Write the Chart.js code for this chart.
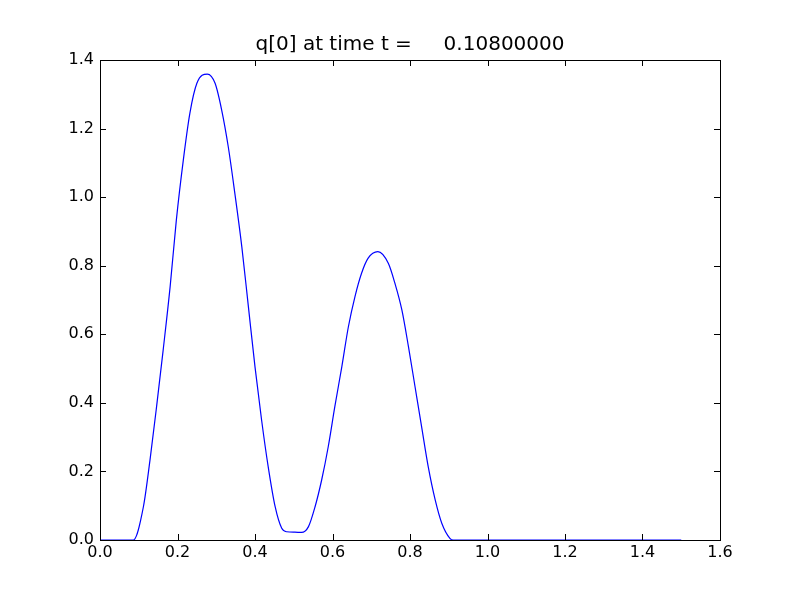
<!DOCTYPE html>
<html lang="en">
<head>
  <meta charset="UTF-8" />
  <title>q[0] at time t</title>
  <script src="https://cdn.jsdelivr.net/npm/chart.js"></script>
  <style>
    html, body { margin: 0; padding: 0; background: #fff; }
    .wrap { width: 800px; height: 600px; }
  </style>
</head>
<body>
<div class="wrap"><canvas id="qChart" width="800" height="600"></canvas></div>

<script>
  // values
  const xValues = [0.0, 0.086, 0.112, 0.129, 0.146, 0.163, 0.181, 0.197, 0.215, 0.232, 0.250, 0.277,
                   0.297, 0.314, 0.331, 0.348, 0.366, 0.383, 0.400, 0.417, 0.434, 0.452, 0.469, 0.482,
                   0.503, 0.520, 0.538, 0.555, 0.572, 0.589, 0.606, 0.624, 0.641, 0.658, 0.675, 0.692, 0.717,
                   0.744, 0.761, 0.779, 0.796, 0.813, 0.830, 0.847, 0.865, 0.882, 0.903, 0.912, 1.5];
  const qValues = [0.0, 0.0, 0.097, 0.233, 0.389, 0.554, 0.739, 0.933, 1.108, 1.245, 1.332, 1.359,
                   1.332, 1.254, 1.147, 1.011, 0.855, 0.680, 0.505, 0.350, 0.214, 0.097, 0.034, 0.024,
                   0.023, 0.022, 0.039, 0.097, 0.175, 0.272, 0.389, 0.505, 0.622, 0.710, 0.778, 0.822, 0.841,
                   0.807, 0.749, 0.671, 0.564, 0.447, 0.330, 0.214, 0.117, 0.049, 0.005, 0.0, 0.0];
  const xTicks = [0.0, 0.2, 0.4, 0.6, 0.8, 1.0, 1.2, 1.4, 1.6];
  const yTicks = [0.0, 0.2, 0.4, 0.6, 0.8, 1.0, 1.2, 1.4];
  const titleText = 'q[0] at time t =     0.10800000';

  // box around the axes plus inward tick marks on all four sides
  const frameTicks = {
    id: 'frameTicks',
    afterLayout(chart) {
      // centre the title over the axes, not the whole canvas
      const t = chart.titleBlock;
      if (t) {
        t.left = chart.chartArea.left;
        t.right = chart.chartArea.right;
        t.width = t.right - t.left;
      }
    },
    afterDraw(chart) {
      const { ctx, chartArea: a, scales } = chart;
      const len = 6;
      ctx.save();
      ctx.strokeStyle = '#000';
      ctx.lineWidth = 1;
      ctx.beginPath();
      xTicks.forEach(v => {
        const px = Math.round(scales.x.getPixelForValue(v)) + 0.5;
        ctx.moveTo(px, a.bottom); ctx.lineTo(px, a.bottom - len);
        ctx.moveTo(px, a.top); ctx.lineTo(px, a.top + len);
      });
      yTicks.forEach(v => {
        const py = Math.round(scales.y.getPixelForValue(v)) + 0.5;
        ctx.moveTo(a.left, py); ctx.lineTo(a.left + len, py);
        ctx.moveTo(a.right, py); ctx.lineTo(a.right - len, py);
      });
      ctx.stroke();
      ctx.strokeRect(Math.round(a.left) + 0.5, Math.round(a.top) + 0.5,
                     Math.round(a.right - a.left), Math.round(a.bottom - a.top));
      ctx.restore();
    }
  };

  new Chart(document.getElementById('qChart'), {
    type: 'line',
    data: {
      datasets: [{
        data: xValues.map((x, i) => ({ x: x, y: qValues[i] })),
        borderColor: '#0000ff',
        borderWidth: 1.2,
        pointRadius: 0,
        fill: false,
        cubicInterpolationMode: 'monotone'
      }]
    },
    options: {
      responsive: false,
      animation: false,
      layout: { padding: { left: 0, right: 80, top: 0, bottom: 0 } },
      plugins: {
        legend: { display: false },
        tooltip: { enabled: false },
        title: {
          display: true,
          text: titleText,
          color: '#000',
          font: { family: 'DejaVu Sans', size: 20, weight: 'normal' },
          padding: { top: 33, bottom: 3 }
        }
      },
      scales: {
        x: {
          type: 'linear',
          min: 0, max: 1.6,
          afterFit: s => { s.height = 60; },
          afterBuildTicks: s => { s.ticks = xTicks.map(v => ({ value: v })); },
          grid: { display: false, drawTicks: false },
          border: { display: false },
          ticks: {
            color: '#000',
            padding: 3,
            maxRotation: 0,
            font: { family: 'DejaVu Sans', size: 16 },
            callback: v => v.toFixed(1)
          }
        },
        y: {
          type: 'linear',
          min: 0, max: 1.4,
          afterFit: s => { s.width = 100; },
          afterBuildTicks: s => { s.ticks = yTicks.map(v => ({ value: v })); },
          grid: { display: false, drawTicks: false },
          border: { display: false },
          ticks: {
            color: '#000',
            padding: 6,
            font: { family: 'DejaVu Sans', size: 16 },
            callback: v => v.toFixed(1)
          }
        }
      }
    },
    plugins: [frameTicks]
  });
</script>
</body>
</html>
